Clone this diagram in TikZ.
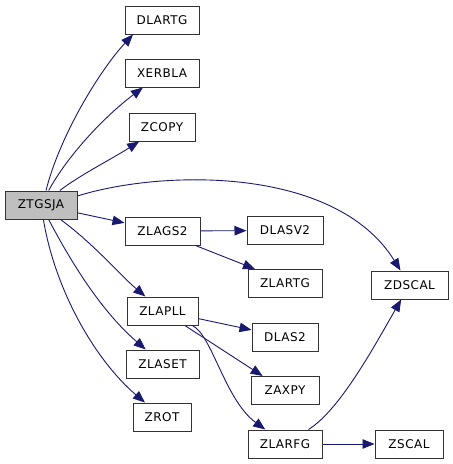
\documentclass[tikz,border=0pt]{standalone}
\usepackage{fontspec}
\setmainfont{DejaVu Sans}[LetterSpace=4]
\usetikzlibrary{arrows.meta}
\definecolor{edge}{HTML}{191970}
\definecolor{rootfill}{HTML}{BFBFBF}
\tikzset{
  box/.style={draw=black!80, line width=1pt, fill=white, minimum height=28pt, inner sep=0pt, font=\fontsize{12}{14}\selectfont},
  root/.style={box, fill=rootfill},
  conn/.style={draw=edge, line width=0.9pt, -{Triangle[length=12pt,width=9.5pt]}}
}
\begin{document}
\begin{tikzpicture}[x=1pt,y=-1pt]
\useasboundingbox (0,0) rectangle (453,464);
\node[root, minimum width=72pt] (ztgsja) at (41,205) {ZTGSJA};
\node[box, minimum width=74pt] (dlartg) at (162,20) {DLARTG};
\node[box, minimum width=74pt] (xerbla) at (162,73) {XERBLA};
\node[box, minimum width=66pt] (zcopy) at (162,127) {ZCOPY};
\node[box, minimum width=75pt] (zlags2) at (162.5,231) {ZLAGS2};
\node[box, minimum width=71pt] (zlapll) at (162.5,311) {ZLAPLL};
\node[box, minimum width=73pt] (zlaset) at (162.5,364) {ZLASET};
\node[box, minimum width=58pt] (zrot) at (162,417) {ZROT};
\node[box, minimum width=76pt] (dlasv2) at (285,230.5) {DLASV2};
\node[box, minimum width=74pt] (zlartg) at (285,283.5) {ZLARTG};
\node[box, minimum width=77pt] (zdscal) at (409.5,285) {ZDSCAL};
\node[box, minimum width=66pt] (dlas2) at (285,337) {DLAS2};
\node[box, minimum width=68pt] (zaxpy) at (285,390.5) {ZAXPY};
\node[box, minimum width=74pt] (zlarfg) at (285,444) {ZLARFG};
\node[box, minimum width=68pt] (zscal) at (409,444) {ZSCAL};

\coordinate (s1) at ([xshift=5pt]ztgsja.north);
\coordinate (s4) at ([yshift=9pt]ztgsja.east);
\coordinate (s2) at ([xshift=-5pt]zlags2.south east);
\draw[conn] (s1) .. controls (60,135) and (100,70) .. (dlartg.south west -| 133,0);
\path[conn] (ztgsja) .. controls (65,160) and (100,120) .. (xerbla);
\path[conn] (ztgsja) .. controls (80,175) and (110,160) .. (zcopy);
\path[conn] (s4) .. controls (160,170) and (335,165) .. (zdscal);
\path[conn] (ztgsja) -- (zlags2);
\path[conn] (ztgsja) .. controls (95,245) and (120,275) .. (zlapll);
\path[conn] (ztgsja) .. controls (70,260) and (100,310) .. (zlaset);
\path[conn] (ztgsja) .. controls (55,290) and (95,360) .. (zrot);
\path[conn] (zlags2) -- (dlasv2);
\path[conn] (s2) -- (zlartg.north west -| 255,0);
\path[conn] (zlapll) -- (dlas2);
\path[conn] (zlapll) -- (zaxpy);
\path[conn] (zlapll) .. controls (212,335) and (225,400) .. (zlarfg);
\path[conn] (zlarfg) .. controls (340,410) and (375,345) .. (zdscal);
\path[conn] (zlarfg) -- (zscal);
\end{tikzpicture}
\end{document}
